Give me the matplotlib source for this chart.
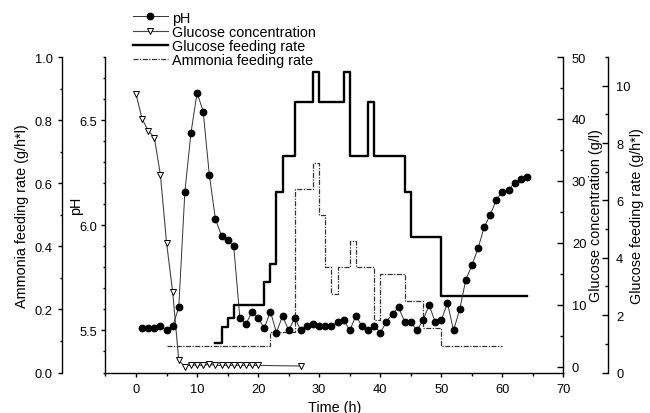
import matplotlib
matplotlib.use('Agg')
import matplotlib.pyplot as plt
from matplotlib.ticker import MultipleLocator

plt.rcParams['font.family'] = ['Liberation Sans', 'DejaVu Sans']

# pH, sampled hourly
ph_time = list(range(1, 65))
ph = [5.51, 5.51, 5.51, 5.52, 5.50, 5.52, 5.61, 6.16, 6.44, 6.63,
      6.54, 6.24, 6.03, 5.95, 5.93, 5.90, 5.56, 5.53, 5.59, 5.56,
      5.51, 5.59, 5.49, 5.57, 5.50, 5.56, 5.50, 5.52, 5.53, 5.52,
      5.52, 5.52, 5.54, 5.55, 5.50, 5.57, 5.52, 5.50, 5.52, 5.49,
      5.54, 5.58, 5.61, 5.54, 5.54, 5.50, 5.55, 5.62, 5.54, 5.55,
      5.63, 5.50, 5.60, 5.74, 5.81, 5.89, 5.99, 6.05, 6.12, 6.16,
      6.17, 6.20, 6.22, 6.23]

# glucose concentration (g/l)
gc_time = [0, 1, 2, 3, 4, 5, 6, 7, 8, 9, 10, 11, 12, 13, 14, 15, 16, 17, 18, 19, 20, 27]
gc = [44.0, 40.0, 38.1, 37.0, 30.9, 20.0, 12.1, 1.0, 0.0, 0.3, 0.2,
      0.2, 0.4, 0.2, 0.2, 0.2, 0.2, 0.2, 0.2, 0.2, 0.2, 0.1]

# glucose feeding rate (g/h*l), step changes
gf_time = [13, 14, 15, 16, 21, 22, 23, 24, 26, 29, 30, 34, 35, 38, 39, 44, 45, 50, 64]
gf = [1.04, 1.59, 1.91, 2.37, 3.17, 3.79, 6.28, 7.55, 9.44, 10.49,
      9.44, 10.49, 7.55, 9.44, 7.55, 6.28, 4.71, 2.67, 2.67]

# ammonia feeding rate (g/h*l), step changes
am_time = [5, 22, 26, 29, 30, 31, 32, 33, 35, 36, 39, 40, 44, 47, 50, 60]
am = [0.085, 0.127, 0.582, 0.664, 0.50, 0.334, 0.249, 0.334, 0.417,
      0.334, 0.168, 0.313, 0.228, 0.141, 0.085, 0.085]

fig = plt.figure(figsize=(6.5, 4.14), dpi=100)
fig.subplots_adjust(left=0.1623, right=0.8669, bottom=0.0978, top=0.8599)
ax = fig.add_subplot(1, 1, 1)
ax_am = ax.twinx()
ax_gc = ax.twinx()
ax_gf = ax.twinx()

tick_fs = 9.3
lab_fs = 10.4

# ammonia feeding rate, outer left axis
l_am, = ax_am.step(am_time, am, where='post', color='#333333', lw=0.9,
                   linestyle=(0, (4, 1.2, 1, 1.2)))
ax_am.set_ylim(0, 1.0)
ax_am.yaxis.set_ticks_position('left')
ax_am.yaxis.set_label_position('left')
ax_am.spines['left'].set_position(('axes', -0.0958))
ax_am.spines['left'].set_visible(True)
for s in ['right', 'top', 'bottom']:
    ax_am.spines[s].set_visible(False)
ax_am.yaxis.set_major_locator(MultipleLocator(0.2))
ax_am.yaxis.set_minor_locator(MultipleLocator(0.1))
ax_am.yaxis.set_major_formatter(lambda v, p: '%.1f' % v)
ax_am.tick_params(axis='y', which='both', direction='out', labelsize=tick_fs, pad=3.5, width=1)
ax_am.tick_params(axis='y', which='major', length=3)
ax_am.tick_params(axis='y', which='minor', length=1.8)
ax_am.set_ylabel('Ammonia feeding rate (g/h*l)', fontsize=lab_fs)
ax_am.yaxis.set_label_coords(-0.168, 0.5)

# glucose concentration, inner right axis
l_gc, = ax_gc.plot(gc_time, gc, color='#444444', lw=0.8, marker='v', markersize=5,
                   markerfacecolor='white', markeredgecolor='black', markeredgewidth=0.7)
ax_gc.set_ylim(-0.95, 50)
for s in ['left', 'top', 'bottom']:
    ax_gc.spines[s].set_visible(False)
ax_gc.yaxis.set_major_locator(MultipleLocator(10))
ax_gc.yaxis.set_minor_locator(MultipleLocator(5))
ax_gc.tick_params(axis='y', which='both', direction='in', labelsize=tick_fs, pad=6, width=1)
ax_gc.tick_params(axis='y', which='major', length=4)
ax_gc.tick_params(axis='y', which='minor', length=2.2)
ax_gc.set_ylabel('Glucose concentration (g/l)', fontsize=lab_fs)
ax_gc.yaxis.set_label_coords(1.056, 0.5)

# glucose feeding rate, outer right axis
l_gf, = ax_gf.step(gf_time, gf, where='post', color='black', lw=1.7)
ax_gf.set_ylim(0, 11)
ax_gf.spines['right'].set_position(('axes', 1.098))
for s in ['left', 'top', 'bottom']:
    ax_gf.spines[s].set_visible(False)
ax_gf.yaxis.set_major_locator(MultipleLocator(2))
ax_gf.yaxis.set_minor_locator(MultipleLocator(1))
ax_gf.tick_params(axis='y', which='both', direction='in', labelsize=tick_fs, pad=5.5, width=1)
ax_gf.tick_params(axis='y', which='major', length=4)
ax_gf.tick_params(axis='y', which='minor', length=2.2)
ax_gf.set_ylabel('Glucose feeding rate (g/h*l)', fontsize=lab_fs)
ax_gf.yaxis.set_label_coords(1.146, 0.5)

# pH, inner left axis (host), drawn on top
ax.set_zorder(ax_gf.get_zorder() + 1)
ax.patch.set_visible(False)
l_ph, = ax.plot(ph_time, ph, color='#333333', lw=0.7, marker='o', markersize=4.6,
                markerfacecolor='black', markeredgecolor='black')
ax.set_xlim(-5, 70)
ax.set_ylim(5.3, 6.8)
ax.spines['top'].set_visible(False)
ax.spines['right'].set_visible(False)
ax.xaxis.set_major_locator(MultipleLocator(10))
ax.xaxis.set_minor_locator(MultipleLocator(5))
ax.yaxis.set_major_locator(MultipleLocator(0.5))
ax.yaxis.set_minor_locator(MultipleLocator(0.1))
ax.tick_params(axis='both', which='both', direction='out', labelsize=tick_fs, width=1)
ax.tick_params(axis='y', which='major', length=3, pad=3)
ax.tick_params(axis='y', which='minor', length=1.8)
ax.tick_params(axis='x', which='major', length=3, pad=4.5)
ax.tick_params(axis='x', which='minor', length=1.8)
ax.set_xlabel('Time (h)', fontsize=lab_fs)
ax.set_ylabel('pH', fontsize=lab_fs)
ax.yaxis.set_label_coords(-0.049, 0.53)

for a in [ax, ax_am, ax_gc, ax_gf]:
    for s in a.spines.values():
        s.set_linewidth(1.0)

fig.legend([l_ph, l_gc, l_gf, l_am],
           ['pH', 'Glucose concentration', 'Glucose feeding rate', 'Ammonia feeding rate'],
           loc='upper left', bbox_to_anchor=(133 / 650, 1 - 11.5 / 414),
           frameon=False, fontsize=lab_fs, borderpad=0, borderaxespad=0,
           handlelength=2.4, handletextpad=0.28, labelspacing=0.02)

fig.savefig('out.png', dpi=100)
